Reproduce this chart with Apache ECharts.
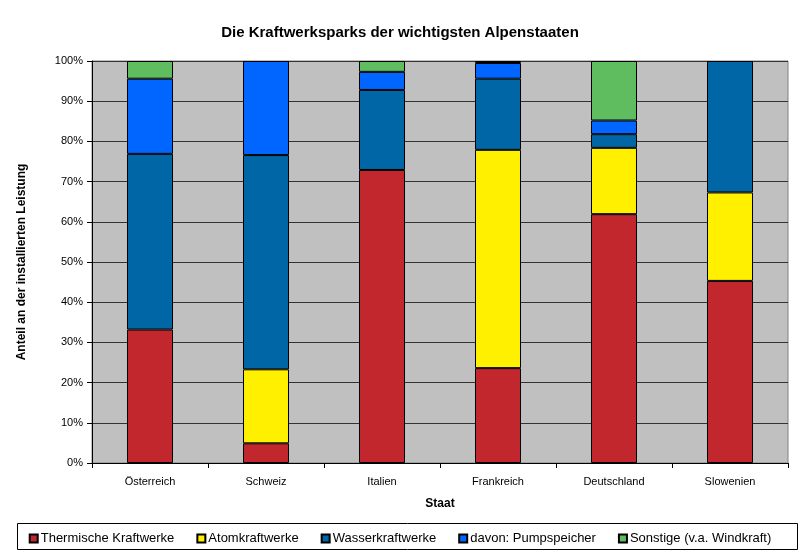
<!DOCTYPE html>
<html>
<head>
<meta charset="utf-8">
<script src="https://cdn.jsdelivr.net/npm/echarts@6/dist/echarts.min.js"></script>
<style>html,body{margin:0;padding:0;background:#fff}#c{width:800px;height:554px}</style>
</head>
<body>
<div id="c"></div>
<script>
var categories = ['Österreich', 'Schweiz', 'Italien', 'Frankreich', 'Deutschland', 'Slowenien'];
var seriesNames = ['Thermische Kraftwerke', 'Atomkraftwerke', 'Wasserkraftwerke', 'davon: Pumpspeicher', 'Sonstige (v.a. Windkraft)'];
var thermisch = [33.2, 4.9, 72.9, 23.6, 61.9, 45.3];
var atom = [0, 18.4, 0, 54.3, 16.5, 22.0];
var wasser = [43.7, 53.3, 19.9, 17.7, 3.4, 32.7];
var pump = [18.7, 23.4, 4.5, 3.9, 3.4, 0];
var sonstige = [4.4, 0, 2.7, 0.5, 14.8, 0];
var yTicks = [0, 10, 20, 30, 40, 50, 60, 70, 80, 90, 100];
var colors = ['#C1272D', '#FFF000', '#0066A6', '#0066FF', '#5FBD5F'];
var values = [thermisch, atom, wasser, pump, sonstige];

var chart = echarts.init(document.getElementById('c'));
var font = 'Arial, "Liberation Sans", sans-serif';
chart.setOption({
  animation: false,
  backgroundColor: '#fff',
  textStyle: {fontFamily: font},
  title: {
    text: 'Die Kraftwerksparks der wichtigsten Alpenstaaten',
    left: 'center', top: 20,
    textStyle: {fontSize: 15, fontWeight: 'bold', color: '#000', fontFamily: font}
  },
  graphic: [{
    type: 'rect', left: 15, top: 521,
    shape: {width: 780, height: 26},
    style: {fill: 'none', stroke: '#000', lineWidth: 1}, z: 100
  }],
  legend: {
    data: seriesNames,
    left: 'center', top: 527,
    icon: 'rect', itemWidth: 8, itemHeight: 8, itemGap: 22,
    textStyle: {fontSize: 13, color: '#000', fontFamily: font, padding: [0, 0, 0, -2]},
    selectedMode: false
  },
  grid: {left: 92, right: 12, top: 61, bottom: 91, show: true, backgroundColor: '#C0C0C0', borderColor: '#808080', borderWidth: 1},
  xAxis: {
    type: 'category', data: categories,
    name: 'Staat', nameLocation: 'middle', nameGap: 35,
    nameTextStyle: {fontSize: 12, fontWeight: 'bold', color: '#000', fontFamily: font},
    axisLine: {lineStyle: {color: '#000', width: 1}},
    axisTick: {show: true, length: 5, lineStyle: {color: '#000'}},
    axisLabel: {fontSize: 11, color: '#000', margin: 13, fontFamily: font}
  },
  yAxis: {
    type: 'value', min: yTicks[0], max: yTicks[yTicks.length - 1], interval: 10,
    name: 'Anteil an der installierten Leistung', nameLocation: 'middle', nameGap: 64, nameRotate: 90,
    nameTextStyle: {fontSize: 12, fontWeight: 'bold', color: '#000', fontFamily: font},
    axisLine: {show: true, lineStyle: {color: '#000', width: 1}},
    axisTick: {show: true, length: 5, lineStyle: {color: '#000'}},
    axisLabel: {fontSize: 11, color: '#000', margin: 9, formatter: '{value}%', fontFamily: font},
    splitLine: {show: true, lineStyle: {color: '#333', width: 1}}
  },
  series: seriesNames.map(function (n, i) {
    return {
      name: n, type: 'bar', stack: 'total', barWidth: 46,
      data: values[i].map(function (v) { return v === 0 ? null : v; }),
      itemStyle: {color: colors[i], borderColor: '#000', borderWidth: 1}
    };
  })
});
</script>
</body>
</html>
